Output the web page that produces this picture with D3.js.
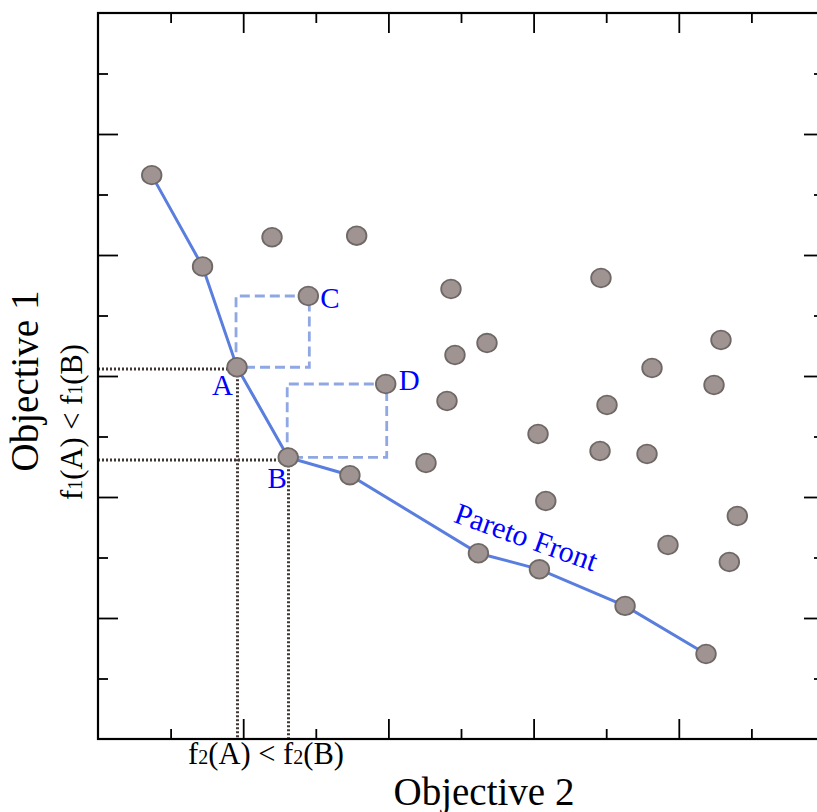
<!DOCTYPE html>
<html>
<head>
<meta charset="utf-8">
<script src="https://cdn.jsdelivr.net/npm/d3@7"></script>
<style>
  html, body { margin: 0; padding: 0; background: #fff; }
  svg { display: block; }
  text { font-family: "Liberation Serif", "Times New Roman", serif; }
</style>
</head>
<body>
<svg id="chart" width="817" height="812"></svg>
<script>
// ---- data (axis units: Objective 2 on x, Objective 1 on y) ----
const xTickValues = d3.range(0, 11);
const yTickValues = d3.range(0, 13);

// Pareto front points (in order along the front)
const paretoX = [0.74, 1.44, 1.915, 2.62, 3.47, 5.24, 6.08, 7.26, 8.375];
const paretoY = [9.32, 7.81, 6.145, 4.655, 4.36, 3.07, 2.805, 2.20, 1.405];

// Dominated points
const otherX = [2.897, 3.963, 2.397, 3.563, 4.862, 4.917, 5.358, 4.807, 4.518, 6.061, 6.168, 6.928, 7.011, 6.915, 7.562, 7.631, 8.581, 8.485, 8.806, 7.851, 8.696];
const otherY = [7.322, 5.868, 8.293, 8.319, 7.438, 6.347, 6.545, 5.587, 4.562, 5.041, 3.934, 7.620, 5.521, 4.760, 4.711, 6.132, 6.595, 5.851, 3.686, 3.207, 2.926];

// Named points
const labelNames = ["A", "B", "C", "D"];
const labelPoints = [[1.915, 6.145], [2.62, 4.655], [2.897, 7.322], [3.963, 5.868]];

const xTitle = "Objective 2";
const yTitle = "Objective 1";
const frontLabel = "Pareto Front";

// ---- layout ----
const svg = d3.select("#chart");
const L = 98, R = 824, T = 13, B = 739;
const x = d3.scaleLinear().domain([0, 10]).range([L, R]);
const y = d3.scaleLinear().domain([0, 12]).range([B, T]);

const blue = "#0000ff";

// dotted guide lines for A and B
const A = labelPoints[0], Bp = labelPoints[1];
const dotColor = "#3f3533";
[[A, 2], [Bp, 3]].forEach(([p, off]) => {
  const yy = Math.round(y(p[1]) + off), xx = Math.round(x(p[0])) + 0.5;
  svg.append("line")
    .attr("x1", x(0)).attr("x2", xx).attr("y1", yy).attr("y2", yy)
    .attr("stroke", dotColor).attr("stroke-width", 3).attr("stroke-dasharray", "2,2");
  svg.append("line")
    .attr("x1", xx).attr("x2", xx).attr("y1", y(p[1])).attr("y2", y(0))
    .attr("stroke", dotColor).attr("stroke-width", 3).attr("stroke-dasharray", "2,2");
});

// dashed dominance boxes A-C, B-D
const C = labelPoints[2], D = labelPoints[3];
[[A, C], [Bp, D]].forEach(([p, q]) => {
  const x0 = x(p[0]) - 1, x1 = x(q[0]) + 1, y0 = y(q[1]), y1 = y(p[1]);
  svg.append("path")
    .attr("d", `M${x0},${y1} L${x0},${y0} L${x1},${y0} L${x1},${y1} Z`)
    .attr("fill", "none").attr("stroke", "#8fa7e2").attr("stroke-width", 2.8)
    .attr("stroke-dasharray", "10,5");
});

// Pareto front line
const paretoPts = paretoX.map((v, i) => [v, paretoY[i]]);
svg.append("path")
  .datum(paretoPts)
  .attr("d", d3.line().x(d => x(d[0])).y(d => y(d[1])))
  .attr("fill", "none").attr("stroke", "#5a7ede").attr("stroke-width", 3);

// points
const allPts = paretoPts.concat(otherX.map((v, i) => [v, otherY[i]]));
svg.append("g").selectAll("ellipse").data(allPts).enter().append("ellipse")
  .attr("cx", d => x(d[0])).attr("cy", d => y(d[1]))
  .attr("rx", 9.8).attr("ry", 9.3)
  .attr("fill", "#a09492").attr("stroke", "#6e6866").attr("stroke-width", 1.8);

// point labels
const labelOffsets = [[-4, 28, "end"], [-11, 31, "middle"], [12, 12, "start"], [13, 6, "start"]];
labelNames.forEach((n, i) => {
  const p = labelPoints[i], o = labelOffsets[i];
  svg.append("text").attr("x", x(p[0]) + o[0]).attr("y", y(p[1]) + o[1])
    .attr("text-anchor", o[2]).attr("font-size", 29).attr("fill", blue).text(n);
});

// Pareto Front label
svg.append("text")
  .attr("transform", `translate(${x(5.85)},${y(3.18)}) rotate(19.5)`)
  .attr("text-anchor", "middle").attr("font-size", 30).attr("fill", blue)
  .text(frontLabel);

// ---- axes (ticks inward on all four sides) ----
const major = v => v % 2 === 0;
function addAxis(gen, scale, vals, tx, ty) {
  const g = svg.append("g").attr("transform", `translate(${tx},${ty})`);
  g.call(gen(scale).tickValues(vals.filter(major)).tickSizeInner(-20).tickSizeOuter(0).tickFormat(""));
  g.select(".domain").remove();
  g.selectAll("line").attr("stroke", "#000").attr("stroke-width", 1.8);
  const g2 = svg.append("g").attr("transform", `translate(${tx},${ty})`);
  g2.call(gen(scale).tickValues(vals.filter(v => !major(v))).tickSizeInner(-10).tickSizeOuter(0).tickFormat(""));
  g2.select(".domain").remove();
  g2.selectAll("line").attr("stroke", "#000").attr("stroke-width", 1.8);
}
addAxis(d3.axisBottom, x, xTickValues.slice(1, -1), 0, B);
addAxis(d3.axisTop, x, xTickValues.slice(1, -1), 0, T);
addAxis(d3.axisLeft, y, yTickValues.slice(1, -1), L, 0);
addAxis(d3.axisRight, y, yTickValues.slice(1, -1), R, 0);

svg.append("rect").attr("x", L).attr("y", T).attr("width", R - L).attr("height", B - T)
  .attr("fill", "none").attr("stroke", "#000").attr("stroke-width", 2.2);

// ---- axis titles ----
svg.append("text").attr("x", 484).attr("y", 805).attr("text-anchor", "middle")
  .attr("font-size", 39).attr("fill", "#000").text(xTitle);
svg.append("text").attr("transform", "translate(38,381) rotate(-90)").attr("text-anchor", "middle")
  .attr("font-size", 39).attr("fill", "#000").text(yTitle);

function fLabel(sel, idx) {
  sel.append("tspan").text("f");
  sel.append("tspan").attr("font-size", 20).text(idx);
  sel.append("tspan").text("(A) < f");
  sel.append("tspan").attr("font-size", 20).text(idx);
  sel.append("tspan").text("(B)");
}
const fx = svg.append("text").attr("x", 266).attr("y", 764).attr("text-anchor", "middle")
  .attr("font-size", 30.5).attr("fill", "#000");
fLabel(fx, "2");
const fy = svg.append("text").attr("transform", "translate(82,422) rotate(-90)").attr("text-anchor", "middle")
  .attr("font-size", 30.5).attr("fill", "#000");
fLabel(fy, "1");
</script>
</body>
</html>
